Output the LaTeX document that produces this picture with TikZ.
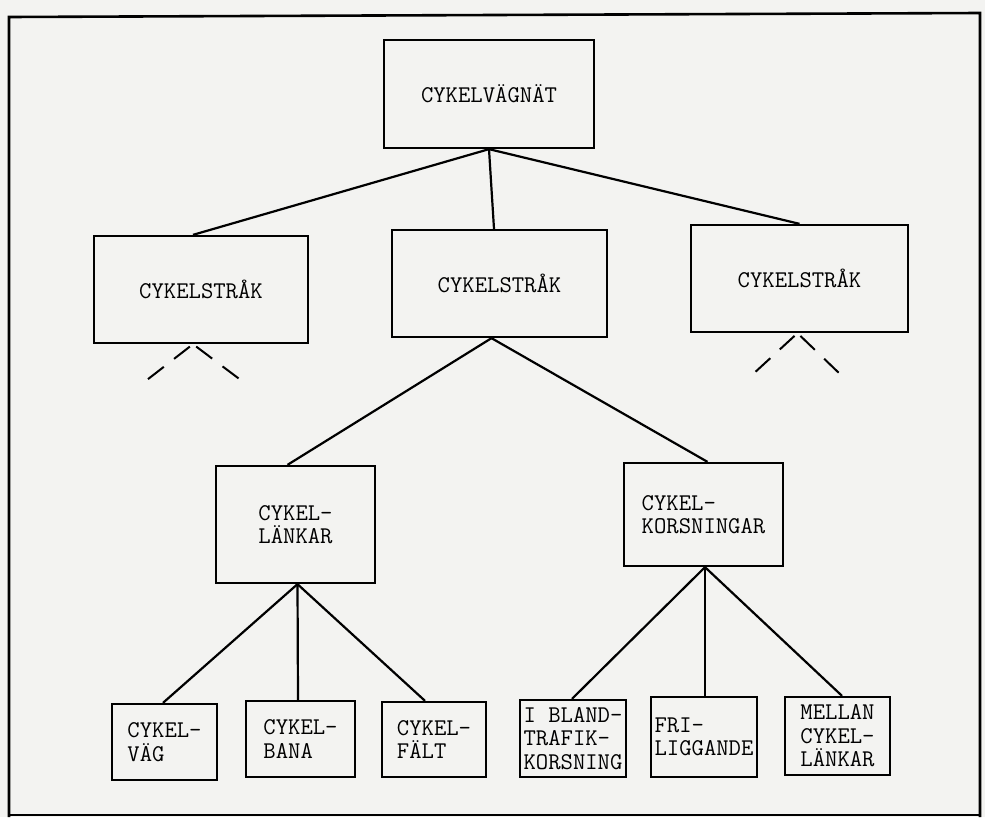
\documentclass[tikz,border=0pt]{standalone}
\usepackage{fontspec}
\definecolor{paper}{RGB}{243,243,241}
\begin{document}
\begin{tikzpicture}[x=1pt,y=-1pt,
  box/.style={draw=black,line width=2.3pt,inner sep=0pt,align=left,
    font=\ttfamily\fontsize{24}{23.5}\selectfont,text=black},
  link/.style={draw=black,line width=2.2pt},
  dlink/.style={draw=black,line width=2pt,dash pattern=on 20pt off 13pt,dash phase=-4pt}]
\fill[paper] (0,0) rectangle (985,817);
\useasboundingbox (0,0) rectangle (985,817);
% frame
\draw[line width=2.6pt] (9,817) -- (9,17) -- (980,13) -- (980,817);
\draw[line width=2.6pt] (9,815) -- (980,815);
% level 0
\node[box,minimum width=210pt,minimum height=108pt] (root) at (489,94) {CYKELVÄGNÄT};
% level 1
\node[box,minimum width=214pt,minimum height=107pt] (s1) at (201,289.5) {CYKELSTRÅK};
\node[box,minimum width=215pt,minimum height=107pt] (s2) at (499.5,283.5) {CYKELSTRÅK};
\node[box,minimum width=217pt,minimum height=107pt] (s3) at (799.5,278.5) {CYKELSTRÅK};
% level 2
\node[box,minimum width=159pt,minimum height=117pt] (lank) at (295.5,524.5) {CYKEL-\\LÄNKAR};
\node[box,minimum width=159pt,minimum height=103pt] (kors) at (703.5,514.5) {CYKEL-\\KORSNINGAR};
% level 3
\node[box,minimum width=105pt,minimum height=76pt] (vag) at (164.5,742) {CYKEL-\\VÄG};
\node[box,minimum width=109pt,minimum height=76pt] (bana) at (300.5,739) {CYKEL-\\BANA};
\node[box,minimum width=104pt,minimum height=75pt] (falt) at (434,739.5) {CYKEL-\\FÄLT};
\node[box,minimum width=106pt,minimum height=77pt] (bland) at (573,738.5) {I BLAND-\\TRAFIK-\\KORSNING};
\node[box,minimum width=106pt,minimum height=80pt] (fri) at (704,737) {FRI-\\LIGGANDE};
\node[box,minimum width=105pt,minimum height=78pt] (mellan) at (837.5,736) {MELLAN\\CYKEL-\\LÄNKAR};
% connectors
\coordinate (r0) at (root.south);
\draw[link] (r0) -- ([xshift=-8pt]s1.north);
\draw[link] (r0) -- ([xshift=-5.5pt]s2.north);
\draw[link] (r0) -- ([xshift=0pt]s3.north);
\coordinate (m0) at ([xshift=-8pt]s2.south);
\draw[link] (m0) -- ([xshift=-8pt]lank.north);
\draw[link] (m0) -- ([xshift=4pt]kors.north);
\coordinate (l0) at ([xshift=2pt]lank.south);
\draw[link] (l0) -- ([xshift=-1.5pt]vag.north);
\draw[link] (l0) -- ([xshift=-2.5pt]bana.north);
\draw[link] (l0) -- ([xshift=-9pt]falt.north);
\coordinate (k0) at ([xshift=1.5pt]kors.south);
\draw[link] (k0) -- ([xshift=-1pt]bland.north);
\draw[link] (k0) -- ([xshift=1pt]fri.north);
\draw[link] (k0) -- ([xshift=4.5pt]mellan.north);
% dashed stubs
\coordinate (d1a) at (143,383);
\coordinate (d1b) at (242,381);
\coordinate (d3a) at (752,375);
\coordinate (d3b) at (840,374);
\draw[dlink] ([xshift=-8pt]s1.south) -- (d1a);
\draw[dlink] ([xshift=-8pt]s1.south) -- (d1b);
\draw[dlink] ([xshift=-2pt]s3.south) -- (d3a);
\draw[dlink] ([xshift=-2pt]s3.south) -- (d3b);
\end{tikzpicture}
\end{document}
